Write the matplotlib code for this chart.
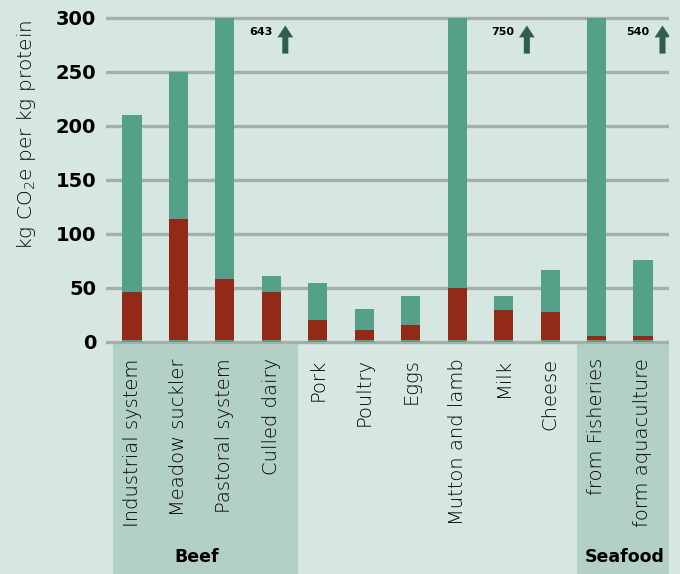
import numpy as np
import matplotlib
matplotlib.use("Agg")
import matplotlib.pyplot as plt
from matplotlib.patches import FancyArrow

plt.rcParams['font.family'] = ['DejaVu Sans']
plt.rcParams['mathtext.default'] = 'regular'

## data
categories = ["Industrial system", "Meadow suckler", "Pastoral system", "Culled dairy",
              "Pork", "Poultry", "Eggs", "Mutton and lamb", "Milk", "Cheese",
              "from Fisheries", "form aquaculture"]
base = [2, 2, 2, 2, 2, 2, 2, 2, 2, 2, 2, 2]
red_top = [46, 114, 58, 46, 20, 11, 16, 50, 30, 28, 6, 6]
total = [210, 250, 643, 61, 55, 31, 43, 750, 43, 67, 540, 76]
groups = [("Beef", 0, 3), ("Seafood", 10, 11)]
yticks = [0, 50, 100, 150, 200, 250, 300]
ymax = 300

bg = "#d6e6e0"
green = "#55a088"
red = "#932a18"
grid = "#a6afaa"
shade = "#b3d0c6"
arrowc = "#2f5e4f"

fig = plt.figure(figsize=(6.8, 5.74), dpi=100, facecolor=bg)
ax = fig.add_axes([106/680, 0, (669-106)/680, (574-15.8)/574])
ax.set_facecolor(bg)

x = np.arange(len(categories))
ax.set_xlim(-0.56, len(categories) - 0.44)
ax.set_ylim(-214.8, 302)

# group shading under the axis
label_shift = {"Beef": -0.2, "Seafood": 0.03}
for name, i0, i1 in groups:
    left = i0 - 0.41
    right = min(i1 + 0.58, len(categories) - 0.44)
    ax.fill_between([left, right], -214.8, -0.5, color=shade, lw=0, zorder=0)
    ax.text((left + right) / 2 + label_shift[name], -199, name, ha='center', va='center',
            fontsize=12.5, fontweight='bold', color='black')

for t in yticks:
    ax.axhline(t, color=grid, lw=2.4, zorder=1)

shown = np.minimum(total, ymax)
w = 0.41
ax.bar(x, base, width=w, color=green, zorder=2, lw=0)
ax.bar(x, np.array(red_top) - np.array(base), bottom=base, width=w, color=red, zorder=2, lw=0)
ax.bar(x, shown - np.array(red_top), bottom=red_top, width=w, color=green, zorder=2, lw=0)

# arrows for off-scale bars
offsets = {2: 1.3, 7: 1.5, 10: 1.42}
for i, off in offsets.items():
    ax_x = i + off
    ax.add_patch(FancyArrow(ax_x, 267, 0, 26, width=0.13, head_width=0.34,
                            head_length=11, length_includes_head=True,
                            color=arrowc, lw=0, zorder=3))
    ax.text(ax_x - 0.28, 287, str(total[i]), ha='right', va='center',
            fontsize=8, fontweight='bold', color='black')

# category labels
for i, c in enumerate(categories):
    ax.text(i, -15, c, rotation=90, ha='center', va='top', fontsize=14,
            fontweight=200, color='black')

ax.set_xticks([])
ax.set_yticks(yticks)
ax.set_yticklabels([str(t) for t in yticks], fontsize=14, fontweight='bold')
ax.tick_params(axis='y', length=0, pad=7)
for s in ax.spines.values():
    s.set_visible(False)

fig.text(26/680, 1 - 135/574, "kg CO$_2$e per kg protein", rotation=90,
         ha='center', va='center', fontsize=14.5, fontweight=200)

fig.savefig("out.png", dpi=100, facecolor=bg)
